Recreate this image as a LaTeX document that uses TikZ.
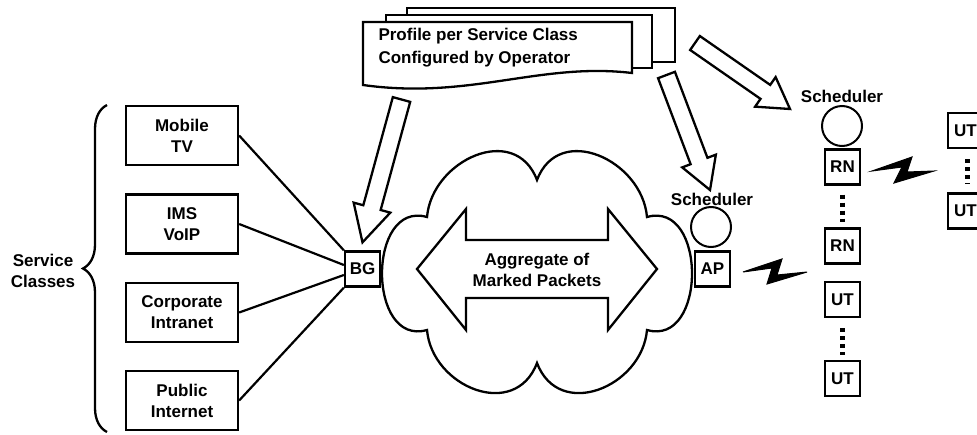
\documentclass[tikz,border=0pt]{standalone}
\usepackage{fontspec}
\setmainfont{Liberation Sans}
\usetikzlibrary{calc,decorations.pathreplacing}

% hollow block arrow: #1 tail, #2 tip, #3 head length, #4 shaft half-width, #5 head half-width
\newcommand\blockarrow[5]{%
  \path ($(#2)!#3!(#1)$) coordinate (ba-h);
  \draw[blockarr]
    ($(#1)!#4!90:(#2)$) -- ($(ba-h)!#4!90:(#2)$) -- ($(ba-h)!#5!90:(#2)$) --
    (#2) --
    ($(ba-h)!#5!-90:(#2)$) -- ($(ba-h)!#4!-90:(#2)$) -- ($(#1)!#4!-90:(#2)$) -- cycle;
}

\begin{document}
\begin{tikzpicture}[x=1pt,y=-1pt,
  font=\bfseries\fontsize{17}{21}\selectfont,
  svc/.style={draw, line width=2.3pt, minimum width=112pt, minimum height=59pt,
              align=center, inner sep=0pt, fill=white},
  unitbox/.style={draw, line width=2.3pt, minimum width=35pt, minimum height=35pt,
              inner sep=0pt, fill=white},
  schedcirc/.style={draw, circle, line width=2pt, minimum size=40pt, inner sep=0pt},
  link/.style={line width=2.2pt},
  blockarr/.style={draw, line width=2.3pt, fill=white, line join=miter},
  sheet/.style={draw, line width=2.3pt, fill=white},
  vdots/.style={line width=4.5pt, dash pattern=on 4pt off 4pt},
  bolt/.style={fill=black, draw=black, line width=1pt, line join=miter}]

\useasboundingbox (0,0) rectangle (977,434);
\clip (0,0) rectangle (977,434);

% stacked profile sheets
\draw[sheet] (407,8) rectangle (675,62);
\draw[sheet] (386,15) rectangle (652,68);
\draw[sheet] (363,22) -- (632,22) -- (632,73)
  .. controls (540,62) and (470,100) .. (363,85) -- cycle;
\node[anchor=west, align=left, font=\bfseries\fontsize{17}{23}\selectfont]
  (profile) at (375,48) {Profile per Service Class\\Configured by Operator};

% service classes
\node[svc] (mob)  at (182,135.5) {Mobile\\TV};
\node[svc] (ims)  at (182,224)   {IMS\\VoIP};
\node[svc] (corp) at (182,312.5) {Corporate\\Intranet};
\node[svc] (pub)  at (182,400.5) {Public\\Internet};
\draw[line width=2.3pt, decorate, decoration={brace, amplitude=24pt}]
  (107,432) -- (107,105);
\node[align=center] (classes) at (43,271) {Service\\Classes};

% border gateway
\node[unitbox] (bg) at (362.5,269) {BG};
\draw[link] (mob.east)  -- (bg.north west);
\draw[link] (ims.east)  -- ([yshift=4pt]bg.west);
\draw[link] (corp.east) -- ([yshift=-6pt]bg.west);
\draw[link] (pub.east)  -- (bg.south west);

% network cloud
\draw[line width=2.3pt, fill=white]
  (427,217) .. controls (432,160) and (515,122) .. (537,180)
            .. controls (559,122) and (642,160) .. (647,217)
            .. controls (707,200) and (707,347) .. (647,330)
            .. controls (642,387) and (559,421) .. (537,363)
            .. controls (515,421) and (432,387) .. (427,330)
            .. controls (367,347) and (367,200) .. cycle;
\draw[line width=2.3pt, line join=miter]
  (417,269) -- (466,209) -- (466,240) -- (608,240) -- (608,209) -- (657,269)
  -- (608,330) -- (608,298) -- (466,298) -- (466,330) -- cycle;
\node[align=center] (agg) at (537,270) {Aggregate of\\Marked Packets};

% access point and its scheduler
\node[unitbox] (ap) at (712.5,269) {AP};
\node[schedcirc] (apsched) at (711,227) {};
\node (aplabel) at (712,199) {Scheduler};

% relay nodes and user terminals
\node[schedcirc] (rnsched) at (842,126) {};
\node (rnlabel) at (842,96) {Scheduler};
\node[unitbox] (rn1) at (842.5,167)   {RN};
\node[unitbox] (rn2) at (842.5,246)   {RN};
\node[unitbox] (ut1) at (842.5,299.5) {UT};
\node[unitbox] (ut2) at (842.5,378.5) {UT};
\draw[vdots, shorten <=9pt, shorten >=5pt] (rn1.south) -- (rn2.north);
\draw[vdots, shorten <=10pt, shorten >=5pt] (ut1.south) -- (ut2.north);

\node[unitbox] (ut3) at (965.5,130.5) {UT};
\node[unitbox] (ut4) at (965.5,211)   {UT};
\draw[vdots, shorten <=10pt, shorten >=9pt] ([xshift=2pt]ut3.south) -- ([xshift=2pt]ut4.north);

% radio links
\draw[bolt] (743,272) -- (782,259) -- (777,275) -- (807,272) -- (767,284) -- (772,268) -- cycle;
\draw[bolt] (872,171) -- (912,157) -- (907,172) -- (934,171) -- (894,183) -- (902,167) -- cycle;

% profile distribution arrows
\coordinate (a1tail) at (401.5,99.5);
\coordinate (a1tip)  at ([yshift=8pt]bg.north);
\coordinate (a2tail) at (666.5,75);
\coordinate (a2tip)  at (710,190);
\coordinate (a3tail) at (695,43);
\coordinate (a3tip)  at (790,109);
\blockarrow{a1tail}{a1tip}{36pt}{9pt}{19pt}
\blockarrow{a2tail}{a2tip}{31pt}{9pt}{18pt}
\blockarrow{a3tail}{a3tip}{30pt}{8.5pt}{18pt}
\end{tikzpicture}
\end{document}
